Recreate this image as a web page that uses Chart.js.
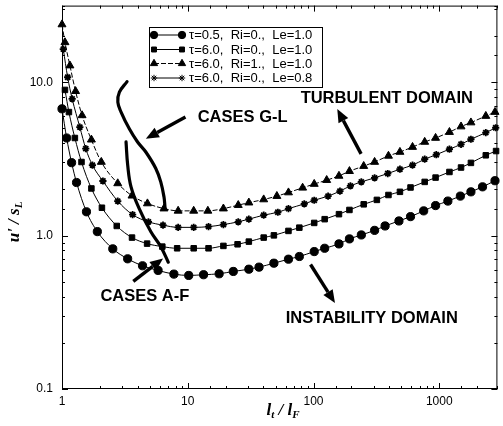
<!DOCTYPE html>
<html lang="en">
<head>
<meta charset="UTF-8" />
<title>u'/sL vs lt/lF</title>
<script src="https://cdn.jsdelivr.net/npm/chart.js"></script>
<style>
  html, body { margin: 0; padding: 0; background: #fff; }
  #chart { display: block; }
</style>
</head>
<body>
<canvas id="chart" width="503" height="426"></canvas>
<script>
  // tau=0.5, Ri=0., Le=1.0 (circles)
  const circX = [1.0, 1.089, 1.192, 1.305, 1.565, 1.91, 2.534, 3.327, 4.368, 5.81, 7.758, 10.18, 13.36, 17.77, 23.02, 30.61, 36.89, 48.42, 63.22, 77.17, 101.3, 122.7, 159.4, 193.1, 240.1, 306.1, 371, 478, 591, 752, 935, 1171, 1472, 1786, 2209, 2775];
  const circY = [6.71, 4.33, 2.99, 2.22, 1.43, 1.062, 0.82, 0.706, 0.636, 0.593, 0.561, 0.55, 0.556, 0.564, 0.584, 0.604, 0.623, 0.661, 0.702, 0.731, 0.787, 0.827, 0.883, 0.952, 1.01, 1.082, 1.156, 1.246, 1.33, 1.45, 1.57, 1.68, 1.81, 1.93, 2.08, 2.28];

  // tau=6.0, Ri=0., Le=1.0 (squares)
  const sqX = [1.056, 1.135, 1.266, 1.429, 1.713, 2.077, 2.725, 3.604, 4.75, 6.276, 8.236, 11.15, 14.63, 19.21, 24.9, 30.61, 40.17, 48.42, 63.22, 77.17, 101.3, 122.7, 159.4, 193.1, 250.7, 319.1, 394.5, 486.8, 591, 766, 935, 1205, 1490, 1786, 2345, 2830];
  const sqY = [8.91, 6.39, 4.33, 3.02, 2.03, 1.52, 1.156, 0.971, 0.887, 0.848, 0.827, 0.827, 0.827, 0.857, 0.878, 0.914, 0.971, 1.004, 1.073, 1.127, 1.21, 1.28, 1.38, 1.47, 1.6, 1.71, 1.84, 1.93, 2.06, 2.24, 2.39, 2.6, 2.78, 2.98, 3.34, 3.56];

  // tau=6.0, Ri=1., Le=1.0 (triangles)
  const triX = [1.0, 1.056, 1.156, 1.282, 1.444, 1.713, 2.054, 2.775, 3.604, 4.781, 6.471, 8.387, 11.15, 14.45, 19.21, 25.21, 30.61, 40.17, 51.13, 63.22, 81.92, 101.3, 127.3, 159.4, 193.1, 250.7, 306.1, 394.5, 486.8, 613, 766, 935, 1205, 1490, 1786, 2345, 2775];
  const triY = [23.8, 18.2, 12.84, 8.74, 6.08, 4.22, 3.02, 2.19, 1.82, 1.62, 1.5, 1.45, 1.45, 1.45, 1.5, 1.58, 1.64, 1.72, 1.81, 1.91, 2.05, 2.17, 2.3, 2.45, 2.63, 2.84, 3.02, 3.31, 3.51, 3.78, 4.08, 4.33, 4.73, 5.14, 5.46, 6.02, 6.39];

  // tau=6.0, Ri=0., Le=0.8 (stars)
  const starX = [1.024, 1.109, 1.205, 1.386, 1.545, 1.745, 2.115, 2.775, 3.643, 4.869, 6.357, 8.387, 11.15, 14.63, 19.21, 25.21, 30.61, 40.17, 52.06, 63.22, 84.5, 101.3, 130.6, 162.3, 196.6, 240.1, 306.1, 389.5, 486.8, 613, 766, 947, 1205, 1490, 1786, 2345, 2811];
  const starY = [16.45, 10.78, 7.79, 5.1, 3.69, 2.88, 2.27, 1.68, 1.37, 1.23, 1.17, 1.132, 1.132, 1.144, 1.18, 1.23, 1.28, 1.36, 1.42, 1.5, 1.61, 1.7, 1.81, 1.95, 2.11, 2.24, 2.38, 2.54, 2.71, 2.88, 3.15, 3.37, 3.66, 3.94, 4.25, 4.69, 5.05];

  const seriesLabels = ["\u03c4=0.5,  Ri=0.,  Le=1.0", "\u03c4=6.0,  Ri=0.,  Le=1.0", "\u03c4=6.0,  Ri=1.,  Le=1.0", "\u03c4=6.0,  Ri=0.,  Le=0.8"];

  const xTickValues = [1, 10, 100, 1000];
  const xTickLabels = ["1", "10", "100", "1000"];
  const yTickValues = [0.1, 1, 10];
  const yTickLabels = ["0.1", "1.0", "10.0"];

  // hand-drawn boundaries (thick curves)
  const glX = [3.29, 2.86, 2.78, 2.95, 3.43, 3.99, 4.64, 5.57, 6.10, 6.47, 6.59];
  const glY = [10.1, 8.61, 7.41, 6.39, 4.97, 4.08, 3.51, 2.74, 2.24, 1.79, 1.54];
  const afX = [3.23, 3.33, 3.54, 4.11, 5.09, 6.10, 7.00];
  const afY = [4.08, 2.88, 2.08, 1.50, 1.06, 0.848, 0.671];

  // arrows: tail -> head
  const arrowTailX = [239, 94.7, 9.59, 3.69];
  const arrowTailY = [3.41, 0.648, 5.93, 0.503];
  const arrowHeadX = [154.5, 148.2, 4.64, 6.36];
  const arrowHeadY = [6.68, 0.363, 4.28, 0.709];

  const noteTexts = ["TURBULENT DOMAIN", "CASES G-L", "CASES A-F", "INSTABILITY DOMAIN"];
  const noteX = [79, 12.0, 2.02, 60.2];
  const noteY = [7.79, 5.93, 0.402, 0.29];

  const pts = (xs, ys) => xs.map((x, i) => ({ x: x, y: ys[i] }));
  const isPow10 = v => Math.abs(Math.log10(v) - Math.round(Math.log10(v))) < 1e-6;
  const pickLabel = (vals, labels, v) => {
    const i = vals.findIndex(t => Math.abs(t - v) / t < 1e-6);
    return i >= 0 ? labels[i] : "";
  };

  const styles = [
    { pointStyle: "circle", radius: 4.1, dash: [] },
    { pointStyle: "rect", radius: 3.9, dash: [] },
    { pointStyle: "triangle", radius: 4.6, dash: [5, 2] },
    { pointStyle: "star", radius: 3.6, dash: [] }
  ];

  function seriesDataset(xs, ys, s) {
    return {
      data: pts(xs, ys),
      borderColor: "#000",
      backgroundColor: "#000",
      borderWidth: 1,
      borderDash: s.dash,
      pointStyle: s.pointStyle,
      pointRadius: s.radius,
      pointBorderWidth: s.pointStyle === "star" ? 1.8 : 1,
      pointHoverRadius: s.radius,
      cubicInterpolationMode: "monotone",
      clip: 8
    };
  }

  function curveDataset(xs, ys) {
    return {
      data: pts(xs, ys),
      borderColor: "#000",
      borderWidth: 3.2,
      pointRadius: 0,
      tension: 0.4,
      borderCapStyle: "round",
      borderJoinStyle: "round",
      clip: 8
    };
  }

  // frame with inward ticks on all four sides
  const framePlugin = {
    id: "frame",
    beforeDatasetsDraw(chart) {
      const ctx = chart.ctx, a = chart.chartArea;
      const sx = chart.scales.x, sy = chart.scales.y;
      ctx.save();
      ctx.strokeStyle = "#000";
      ctx.lineWidth = 1;
      ctx.strokeRect(a.left + 0.5, a.top + 0.5, a.right - a.left - 1, a.bottom - a.top - 1);
      ctx.beginPath();
      sx.ticks.forEach(t => {
        const p = Math.round(sx.getPixelForValue(t.value)) + 0.5;
        const len = isPow10(t.value) ? 6 : 3;
        ctx.moveTo(p, a.bottom); ctx.lineTo(p, a.bottom - len);
        ctx.moveTo(p, a.top); ctx.lineTo(p, a.top + len);
      });
      sy.ticks.forEach(t => {
        const p = Math.round(sy.getPixelForValue(t.value)) + 0.5;
        const len = isPow10(t.value) ? 6 : 3;
        ctx.moveTo(a.left, p); ctx.lineTo(a.left + len, p);
        ctx.moveTo(a.right, p); ctx.lineTo(a.right - len, p);
      });
      ctx.stroke();
      ctx.restore();
    },
    afterDatasetsDraw(chart) {
      const ctx = chart.ctx;
      const sx = chart.scales.x, sy = chart.scales.y;
      ctx.save();
      ctx.fillStyle = "#000";
      ctx.strokeStyle = "#000";
      // arrows
      arrowTailX.forEach((_, i) => {
        const x0 = sx.getPixelForValue(arrowTailX[i]), y0 = sy.getPixelForValue(arrowTailY[i]);
        const x1 = sx.getPixelForValue(arrowHeadX[i]), y1 = sy.getPixelForValue(arrowHeadY[i]);
        const ang = Math.atan2(y1 - y0, x1 - x0);
        const hl = 13, hw = 5.5;
        const bx = x1 - hl * Math.cos(ang), by = y1 - hl * Math.sin(ang);
        ctx.lineWidth = 3.4;
        ctx.beginPath();
        ctx.moveTo(x0, y0);
        ctx.lineTo(bx, by);
        ctx.stroke();
        ctx.beginPath();
        ctx.moveTo(x1, y1);
        ctx.lineTo(bx + hw * Math.sin(ang), by - hw * Math.cos(ang));
        ctx.lineTo(bx - hw * Math.sin(ang), by + hw * Math.cos(ang));
        ctx.closePath();
        ctx.fill();
      });
      // notes
      ctx.font = 'bold 16.5px "Liberation Sans", Arial, sans-serif';
      ctx.textAlign = "left";
      ctx.textBaseline = "middle";
      noteTexts.forEach((t, i) => {
        ctx.fillText(t, sx.getPixelForValue(noteX[i]), sy.getPixelForValue(noteY[i]));
      });
      ctx.restore();
    },
    afterDraw(chart) {
      const ctx = chart.ctx;
      ctx.save();
      // legend box
      ctx.strokeStyle = "#000";
      ctx.fillStyle = "#fff";
      ctx.lineWidth = 1;
      ctx.fillRect(149.5, 27.5, 173, 60);
      ctx.strokeRect(149.5, 27.5, 173, 60);
      const rowY = [35, 49.5, 63.5, 78];
      ctx.font = '13px "Liberation Sans", Arial, sans-serif';
      ctx.textBaseline = "middle";
      ctx.textAlign = "left";
      seriesLabels.forEach((lab, i) => {
        const s = styles[i];
        ctx.strokeStyle = "#000";
        ctx.fillStyle = "#000";
        ctx.lineWidth = 1;
        ctx.setLineDash(s.dash);
        ctx.beginPath();
        ctx.moveTo(154, rowY[i]);
        ctx.lineTo(182, rowY[i]);
        ctx.stroke();
        ctx.setLineDash([]);
        const opts = { pointStyle: s.pointStyle, radius: s.radius - 0.4, rotation: 0, borderWidth: s.pointStyle === "star" ? 1.8 : 1 };
        Chart.helpers.drawPoint(ctx, opts, 154, rowY[i]);
        Chart.helpers.drawPoint(ctx, opts, 182, rowY[i]);
        ctx.fillText(lab, 189, rowY[i] + 0.5);
      });
      // axis titles
      ctx.fillStyle = "#000";
      const big = 'italic bold 17px "Liberation Serif", "Times New Roman", serif';
      const small = 'italic bold 11px "Liberation Serif", "Times New Roman", serif';
      function drawParts(parts, cx, cy) {
        let w = 0;
        parts.forEach(p => { ctx.font = p[1] ? small : big; w += ctx.measureText(p[0]).width; });
        let x = cx - w / 2;
        parts.forEach(p => {
          ctx.font = p[1] ? small : big;
          ctx.fillText(p[0], x, cy + (p[1] ? 4 : 0));
          x += ctx.measureText(p[0]).width;
        });
      }
      ctx.textAlign = "left";
      ctx.textBaseline = "middle";
      drawParts([["l", 0], ["t", 1], [" / ", 0], ["l", 0], ["F", 1]], 283, 411);
      ctx.save();
      ctx.translate(15, 222);
      ctx.rotate(-Math.PI / 2);
      drawParts([["u'", 0], [" / ", 0], ["s", 0], ["L", 1]], 0, 0);
      ctx.restore();
      ctx.restore();
    }
  };

  const tickFont = { family: '"Liberation Sans", Arial, sans-serif', size: 12 };

  new Chart(document.getElementById("chart"), {
    type: "line",
    data: {
      datasets: [
        seriesDataset(circX, circY, styles[0]),
        seriesDataset(sqX, sqY, styles[1]),
        seriesDataset(triX, triY, styles[2]),
        seriesDataset(starX, starY, styles[3]),
        curveDataset(glX, glY),
        curveDataset(afX, afY)
      ]
    },
    options: {
      responsive: false,
      animation: false,
      layout: { padding: { top: 4, right: 2, left: 0, bottom: 0 } },
      plugins: {
        legend: { display: false },
        tooltip: { enabled: false }
      },
      scales: {
        x: {
          type: "logarithmic",
          min: 1,
          max: 2900,
          grid: { display: false, drawTicks: false },
          border: { display: false },
          ticks: {
            autoSkip: false,
            maxRotation: 0,
            padding: 5,
            color: "#000",
            font: tickFont,
            callback: v => pickLabel(xTickValues, xTickLabels, v)
          },
          afterFit: s => { s.height = 37; s.paddingLeft = 0; s.paddingRight = 0; }
        },
        y: {
          type: "logarithmic",
          min: 0.1,
          max: 31.6,
          grid: { display: false, drawTicks: false },
          border: { display: false },
          ticks: {
            autoSkip: false,
            padding: 9,
            color: "#000",
            font: tickFont,
            callback: v => pickLabel(yTickValues, yTickLabels, v)
          },
          afterFit: s => { s.width = 62; s.paddingTop = 0; s.paddingBottom = 0; }
        }
      }
    },
    plugins: [framePlugin]
  });
</script>
</body>
</html>
